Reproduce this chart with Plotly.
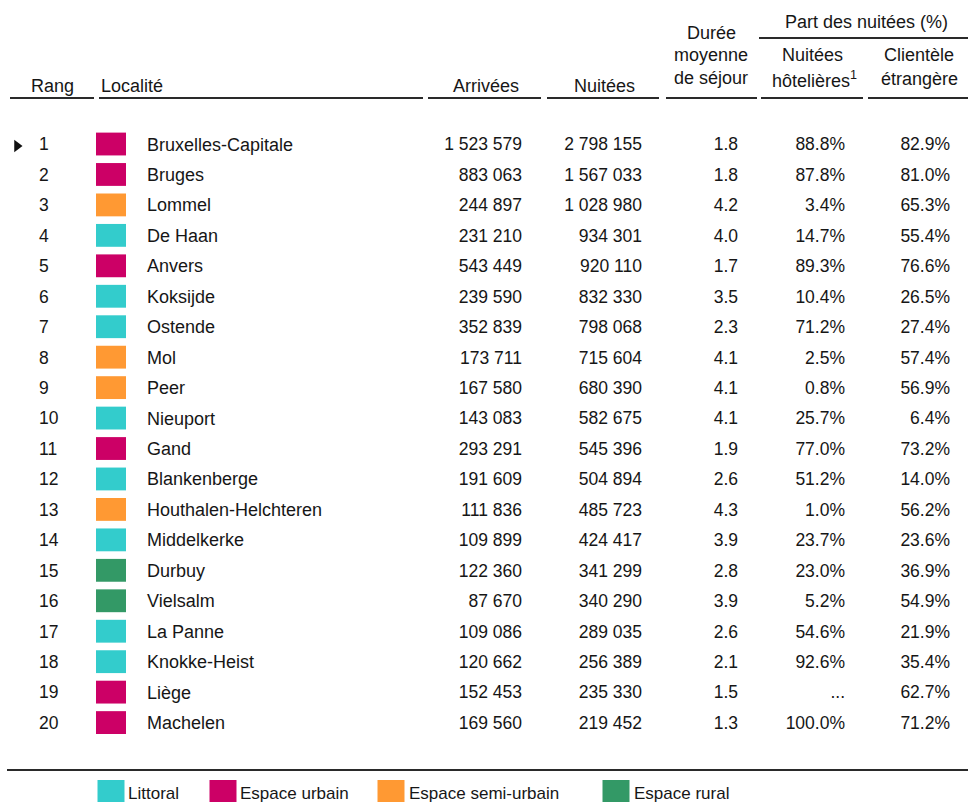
import plotly.graph_objects as go

# ---------------- data ----------------
ranks = list(range(1, 21))
localites = ["Bruxelles-Capitale", "Bruges", "Lommel", "De Haan", "Anvers", "Koksijde",
             "Ostende", "Mol", "Peer", "Nieuport", "Gand", "Blankenberge",
             "Houthalen-Helchteren", "Middelkerke", "Durbuy", "Vielsalm", "La Panne",
             "Knokke-Heist", "Liège", "Machelen"]
espaces = ["Espace urbain", "Espace urbain", "Espace semi-urbain", "Littoral", "Espace urbain",
           "Littoral", "Littoral", "Espace semi-urbain", "Espace semi-urbain", "Littoral",
           "Espace urbain", "Littoral", "Espace semi-urbain", "Littoral", "Espace rural",
           "Espace rural", "Littoral", "Littoral", "Espace urbain", "Espace urbain"]
arrivees = [1523579, 883063, 244897, 231210, 543449, 239590, 352839, 173711, 167580, 143083,
            293291, 191609, 111836, 109899, 122360, 87670, 109086, 120662, 152453, 169560]
nuitees = [2798155, 1567033, 1028980, 934301, 920110, 832330, 798068, 715604, 680390, 582675,
           545396, 504894, 485723, 424417, 341299, 340290, 289035, 256389, 235330, 219452]
duree = [1.8, 1.8, 4.2, 4.0, 1.7, 3.5, 2.3, 4.1, 4.1, 4.1, 1.9, 2.6, 4.3, 3.9, 2.8, 3.9,
         2.6, 2.1, 1.5, 1.3]
part_hotel = [88.8, 87.8, 3.4, 14.7, 89.3, 10.4, 71.2, 2.5, 0.8, 25.7, 77.0, 51.2, 1.0, 23.7,
              23.0, 5.2, 54.6, 92.6, None, 100.0]
part_etrangere = [82.9, 81.0, 65.3, 55.4, 76.6, 26.5, 27.4, 57.4, 56.9, 6.4, 73.2, 14.0, 56.2,
                  23.6, 36.9, 54.9, 21.9, 35.4, 62.7, 71.2]
categories = ["Littoral", "Espace urbain", "Espace semi-urbain", "Espace rural"]
cat_colors = {"Littoral": "#33CCCC", "Espace urbain": "#CC0066",
              "Espace semi-urbain": "#FF9933", "Espace rural": "#339966"}

# ---------------- layout helpers ----------------
W, H = 968, 802
ROW1_PX, ROW_STEP = 146.0, 30.45
FONT = "Liberation Sans, Arial, sans-serif"
TXT = "#161616"
FS = 17.5


def rank_of_px(px):
    return 1 + (px - ROW1_PX) / ROW_STEP


def paper_y(px):
    return 1 - px / H


def fmt_int(v):
    return f"{v:,}".replace(",", " ")


def fmt_pct(v):
    return "..." if v is None else f"{v:.1f}%"


fig = go.Figure()

# category squares
fig.add_trace(go.Bar(
    x=[111] * len(ranks), y=[0.75] * len(ranks), base=[r - 0.44 for r in ranks],
    width=30, marker=dict(color=[cat_colors[e] for e in espaces], line=dict(width=0)),
    hoverinfo="skip", showlegend=False))

# arrow on first row
fig.add_trace(go.Scatter(x=[17], y=[ranks[0]], mode="markers",
                         marker=dict(symbol="triangle-right", size=11, color="#111"),
                         hoverinfo="skip", showlegend=False))


def text_col(xpos, values, pos, size=FS):
    fig.add_trace(go.Scatter(x=[xpos] * len(values), y=ranks, mode="text", text=values,
                             textposition=pos, textfont=dict(family=FONT, size=size, color=TXT),
                             hoverinfo="skip", showlegend=False, cliponaxis=False))


text_col(39, [str(r) for r in ranks], "middle right")
text_col(147, localites, "middle right", 18)
text_col(522, [fmt_int(v) for v in arrivees], "middle left")
text_col(642, [fmt_int(v) for v in nuitees], "middle left")
text_col(738, [f"{v:.1f}" for v in duree], "middle left")
text_col(845, [fmt_pct(v) for v in part_hotel], "middle left")
text_col(950, [fmt_pct(v) for v in part_etrangere], "middle left")

# legend
leg_sq_x = [111, 223, 391, 616]
leg_tx_x = [128, 240, 409, 634]
leg_top = rank_of_px(780)
fig.add_trace(go.Bar(
    x=leg_sq_x, y=[1.0] * 4, base=[leg_top] * 4, width=27,
    marker=dict(color=[cat_colors[c] for c in categories], line=dict(width=0)),
    hoverinfo="skip", showlegend=False))
fig.add_trace(go.Scatter(x=leg_tx_x, y=[rank_of_px(795)] * 4, mode="text", text=categories,
                         textposition="middle right",
                         textfont=dict(family=FONT, size=17, color=TXT),
                         hoverinfo="skip", showlegend=False, cliponaxis=False))

# header texts
headers = [
    ("Rang", 52, 86), ("Arrivées", 486, 86), ("Nuitées", 604, 86),
    ("Durée", 711, 33), ("moyenne", 711, 55), ("de séjour", 711, 78),
    ("Nuitées", 812, 55), ("hôtelières<sup>1</sup>", 814, 79),
    ("Clientèle", 919, 55), ("étrangère", 919, 79),
    ("Part des nuitées (%)", 866, 22),
]
annotations = [dict(text=t, x=x, y=paper_y(y), xref="x", yref="paper", showarrow=False,
                    xanchor="center", yanchor="middle",
                    font=dict(family=FONT, size=18, color=TXT)) for t, x, y in headers]
annotations.append(dict(text="Localité", x=99, y=paper_y(86), xref="x", yref="paper",
                        showarrow=False, xanchor="left", yanchor="middle",
                        font=dict(family=FONT, size=18, color=TXT)))

# header lines
line_segs = [(10, 94, 98), (99, 423, 98), (428, 541, 98), (547, 659, 98), (666, 757, 98),
             (761, 863, 98), (868, 968, 98), (759, 968, 38), (7, 968, 770)]
shapes = [dict(type="line", x0=a, x1=b, y0=paper_y(y), y1=paper_y(y), xref="x", yref="paper",
               line=dict(color="#2a2a2a", width=2)) for a, b, y in line_segs]

fig.update_layout(
    width=W, height=H, margin=dict(l=0, r=0, t=0, b=0),
    paper_bgcolor="white", plot_bgcolor="white", barmode="overlay",
    xaxis=dict(range=[0, W], visible=False, fixedrange=True),
    yaxis=dict(range=[rank_of_px(H), rank_of_px(0)], visible=False, fixedrange=True),
    annotations=annotations, shapes=shapes, showlegend=False,
)

fig.write_html("out.html", config={"displayModeBar": False},
               post_script="document.body.style.margin='0';document.body.style.overflow='hidden';")
